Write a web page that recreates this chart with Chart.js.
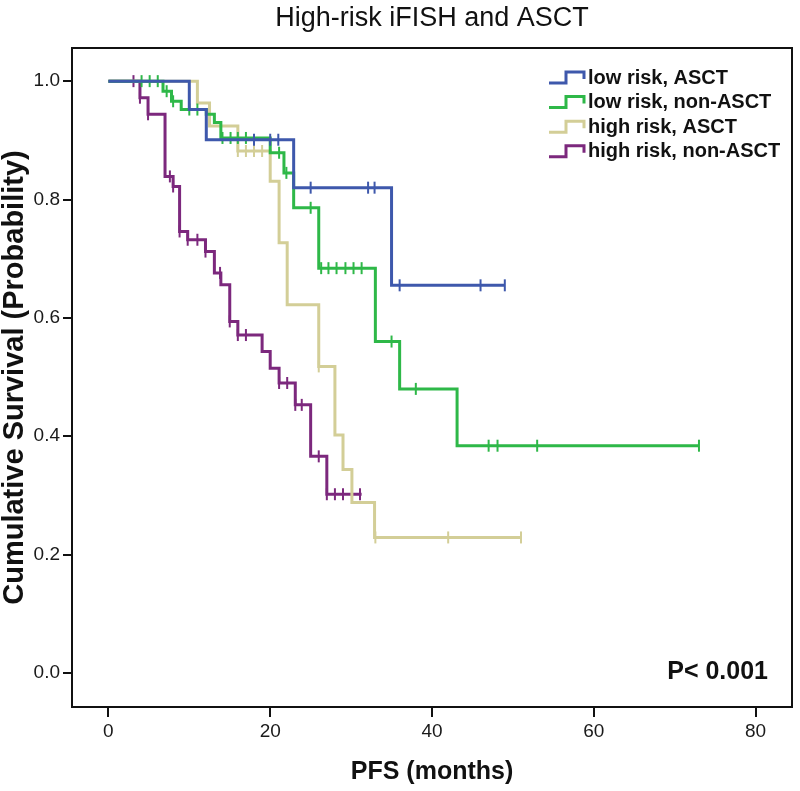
<!DOCTYPE html>
<html>
<head>
<meta charset="utf-8">
<title>High-risk iFISH and ASCT</title>
<script src="https://cdn.jsdelivr.net/npm/chart.js@4/dist/chart.umd.min.js"></script>
<style>
    html, body { margin: 0; padding: 0; background: #fff; }
    #wrap { width: 800px; height: 791px; }
</style>
</head>
<body>
<div id="wrap"><canvas id="km-chart" width="800" height="791"></canvas></div>
<script>
// groups, in legend order
const groupLabels = ["low risk, ASCT", "low risk, non-ASCT", "high risk, ASCT", "high risk, non-ASCT"];
const groupColors = ["#3e58ac", "#2eb848", "#d3ce97", "#7c287d"];

// times (months) where each curve steps down, and the survival level from that time on
// (last entry = end of follow-up)
const lowAsctTimes = [0, 10.0, 12.1, 22.9, 35.0, 49.0];
const lowAsctSurv = [1.0, 0.952, 0.901, 0.820, 0.655, 0.655];
const lowAsctCensor = [18.0, 20.0, 21.0, 25.0, 32.1, 32.9, 36.0, 46.0, 49.0];

const lowNonTimes = [0, 6.75, 7.8, 9.0, 12.1, 13.1, 13.9, 20.0, 21.7, 22.9, 26.0, 33.0, 36.0, 43.1, 73.0];
const lowNonSurv = [1.0, 0.983, 0.966, 0.952, 0.944, 0.930, 0.904, 0.879, 0.845, 0.786, 0.684, 0.560, 0.480, 0.384, 0.384];
const lowNonCensor = [4.1, 5.1, 6.1, 7.2, 8.0, 10.0, 11.0, 14.1, 15.1, 16.0, 17.0, 21.1, 22.0, 25.0,
    26.3, 27.2, 28.2, 29.3, 30.3, 31.3, 35.0, 38.0, 47.0, 48.1, 53.0, 73.0];

const highAsctTimes = [0, 11.0, 12.5, 16.0, 20.0, 21.1, 22.1, 26.0, 28.0, 29.0, 30.1, 32.9, 51.0];
const highAsctSurv = [1.0, 0.963, 0.924, 0.882, 0.831, 0.727, 0.622, 0.518, 0.402, 0.344, 0.288, 0.229, 0.229];
const highAsctCensor = [16.0, 17.0, 18.0, 19.0, 26.0, 33.0, 42.0, 51.0];

const highNonTimes = [0, 3.9, 4.9, 7.0, 8.0, 8.8, 9.8, 12.0, 13.1, 13.9, 15.0, 16.0, 19.0, 20.0, 21.1, 23.1, 25.0, 27.0, 31.3];
const highNonSurv = [1.0, 0.972, 0.944, 0.839, 0.822, 0.746, 0.732, 0.712, 0.676, 0.656, 0.594, 0.571, 0.543, 0.515, 0.490, 0.453, 0.366, 0.302, 0.302];
const highNonCensor = [3.1, 3.9, 4.9, 7.6, 8.0, 8.8, 9.8, 11.0, 12.0, 13.8, 15.0, 16.0, 17.0, 21.1, 22.1,
    23.1, 23.9, 26.0, 27.0, 28.0, 29.0, 31.1];

const xTicks = [0, 20, 40, 60, 80];
const yTicks = [0.0, 0.2, 0.4, 0.6, 0.8, 1.0];

const pValueText = "P< 0.001";

function stepPoints(times, surv) {
    return times.map((t, i) => ({ x: t, y: surv[i] }));
}

// survival level at time t (censor marks sit on the level after a drop at the same time)
function survAt(times, surv, t) {
    let s = surv[0];
    for (let i = 0; i < times.length; i++) {
        if (times[i] <= t) s = surv[i];
    }
    return s;
}

function censorPoints(times, surv, censor) {
    return censor.map(t => ({ x: t, y: survAt(times, surv, t) }));
}

const groups = [
    [lowAsctTimes, lowAsctSurv, lowAsctCensor],
    [lowNonTimes, lowNonSurv, lowNonCensor],
    [highAsctTimes, highAsctSurv, highAsctCensor],
    [highNonTimes, highNonSurv, highNonCensor],
];

const datasets = [];
groups.forEach(([times, surv, censor], i) => {
    datasets.push({
        label: groupLabels[i],
        data: stepPoints(times, surv),
        stepped: 'before',   // horizontal first, then the drop
        borderColor: groupColors[i],
        borderWidth: 3,
        pointRadius: 0,
        fill: false,
    });
    datasets.push({
        label: groupLabels[i] + " (censored)",
        data: censorPoints(times, surv, censor),
        showLine: false,
        pointStyle: 'line',
        rotation: 90,
        pointRadius: 6,
        borderColor: groupColors[i],
        borderWidth: 2,
    });
});

const tickFont = { family: "'Liberation Sans', Arial, sans-serif", size: 19 };

// frame, title, legend and p-value
const kmDecor = {
    id: 'kmDecor',
    afterDraw(chart) {
        const { ctx, chartArea: a } = chart;
        ctx.save();
        ctx.strokeStyle = '#111';
        ctx.lineWidth = 2;
        ctx.strokeRect(a.left, a.top, a.right - a.left, a.bottom - a.top);

        ctx.fillStyle = '#111';
        ctx.font = "27px 'Liberation Sans', Arial, sans-serif";
        ctx.textAlign = 'center';
        ctx.textBaseline = 'middle';
        ctx.fillText("High-risk iFISH and ASCT", 432, 19);

        ctx.font = "bold 20px 'Liberation Sans', Arial, sans-serif";
        ctx.textAlign = 'left';
        groupLabels.forEach((label, i) => {
            const y = 78 + i * 24.6;
            ctx.strokeStyle = groupColors[i];
            ctx.lineWidth = 3;
            ctx.beginPath();
            ctx.moveTo(549, y + 5);
            ctx.lineTo(566, y + 5);
            ctx.lineTo(566, y - 6);
            ctx.lineTo(584, y - 6);
            ctx.lineTo(584, y + 1);
            ctx.stroke();
            ctx.fillText(label, 588, y);
        });

        ctx.font = "bold 25px 'Liberation Sans', Arial, sans-serif";
        ctx.textAlign = 'right';
        ctx.fillText(pValueText, 768, 672);
        ctx.restore();
    }
};

new Chart(document.getElementById('km-chart'), {
    type: 'line',
    data: { datasets: datasets },
    options: {
        responsive: false,
        animation: false,
        layout: { padding: { top: 48, right: 3, left: 0, bottom: 0 } },
        plugins: {
            legend: { display: false },
            tooltip: { enabled: false },
            title: { display: false },
        },
        scales: {
            x: {
                type: 'linear',
                min: -4.5,
                max: 84.5,
                afterBuildTicks: (scale) => { scale.ticks = xTicks.map(v => ({ value: v })); },
                afterFit: (scale) => { scale.height = 84; },
                ticks: { font: tickFont, color: '#1a1a1a', padding: 3, maxRotation: 0 },
                grid: { display: true, drawOnChartArea: false, drawTicks: true, tickLength: 10, color: '#111', lineWidth: 2 },
                border: { display: true, color: '#111', width: 2 },
                title: {
                    display: true,
                    text: 'PFS (months)',
                    color: '#111',
                    font: { family: "'Liberation Sans', Arial, sans-serif", size: 25, weight: 'bold', lineHeight: 1.2 },
                    padding: { top: 4, bottom: 4 },
                },
            },
            y: {
                min: -0.0575,
                max: 1.056,
                afterBuildTicks: (scale) => { scale.ticks = yTicks.map(v => ({ value: v })); },
                afterFit: (scale) => { scale.width = 72; },
                ticks: { font: tickFont, color: '#1a1a1a', padding: 3, callback: (v) => v.toFixed(1) },
                grid: { display: true, drawOnChartArea: false, drawTicks: true, tickLength: 9, color: '#111', lineWidth: 2 },
                border: { display: true, color: '#111', width: 2 },
                title: {
                    display: true,
                    text: 'Cumulative Survival (Probability)',
                    color: '#111',
                    font: { family: "'Liberation Sans', Arial, sans-serif", size: 29, weight: 'bold', lineHeight: 1 },
                    padding: 0,
                },
            },
        },
    },
    plugins: [kmDecor],
});
</script>
</body>
</html>
